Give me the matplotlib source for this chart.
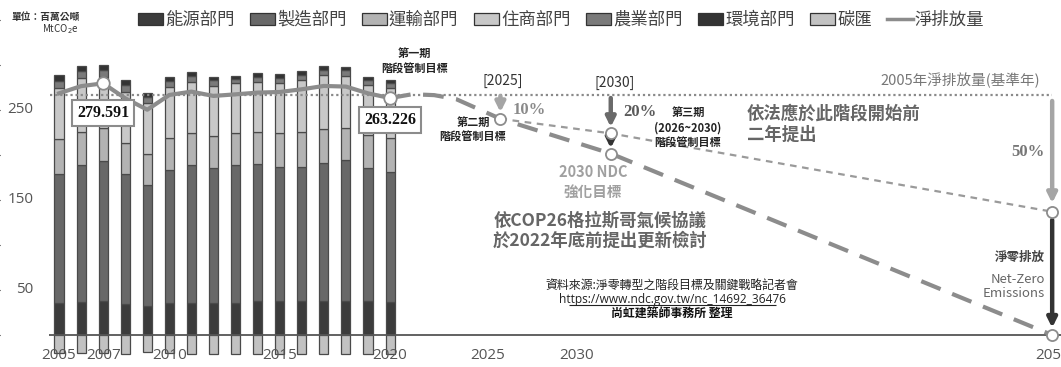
import numpy as np
import matplotlib
matplotlib.use("Agg")
import matplotlib.pyplot as plt
from matplotlib.patches import Patch
from matplotlib.lines import Line2D

plt.rcParams['font.family'] = ['Noto Sans CJK TC', 'DejaVu Sans']

# 2005-2020 排放量 (MtCO2e)
years = np.arange(2005, 2021)
energy = [35.6, 36.7, 38.1, 34.4, 32.2, 35.6, 35.6, 35.6, 35.6, 38.1, 38.1, 38.1, 38.1, 38.1, 38.1, 36.7]
manufacturing = [143.3, 151.8, 155.2, 144.5, 134.5, 147.7, 152.9, 150.4, 152.9, 151.9, 148.9, 148.9, 153.4, 156.3, 147.9, 144.8]
transport = [38.5, 37.4, 36.3, 34.8, 34.4, 35.2, 35.5, 35.5, 35.5, 35.9, 37.8, 38.9, 37.0, 35.2, 36.2, 37.0]
residential = [56.6, 59.3, 57.4, 56.7, 56.3, 56.7, 57.5, 55.2, 55.6, 55.6, 54.8, 57.4, 60.4, 58.2, 55.6, 55.5]
agriculture = [8.6, 7.9, 7.6, 7.5, 6.5, 6.9, 6.1, 6.1, 5.0, 5.5, 5.9, 6.1, 5.9, 6.1, 5.5, 5.5]
environment = [6.3, 5.8, 5.4, 5.4, 4.6, 4.9, 4.3, 4.2, 3.4, 3.7, 4.1, 4.3, 4.1, 4.2, 3.7, 3.8]
sink = [-20.4, -20.4, -20.4, -21.1, -18.5, -20.4, -21.1, -21.1, -21.1, -21.1, -21.1, -21.1, -21.1, -21.1, -21.1, -21.1]
net = [268.5, 276.5, 279.591, 263.0, 250.3, 266.7, 270.4, 265.6, 267.4, 269.3, 270.0, 273.0, 276.7, 276.0, 268.5, 263.226]

base_2005 = 266.9

# 減量路徑
ndc_years = [2020, 2021, 2022, 2023, 2025, 2030, 2050]
ndc_path = [263.226, 267.5, 266.5, 262.0, 240.2, 201.6, 0.0]
stage_years = [2025, 2030, 2050]
stage_path = [240.2, 224.0, 137.0]

tick_years = [2005, 2007, 2010, 2015, 2020, 2025, 2030, 2050]
label_shift = {2025: -0.6, 2030: -1.55}

sector_names = ['能源部門', '製造部門', '運輸部門', '住商部門', '農業部門', '環境部門']
sector_vals = [energy, manufacturing, transport, residential, agriculture, environment]
sector_cols = ['#3c3c3c', '#686868', '#b3b3b3', '#c8c8c8', '#7a7a7a', '#333333']
sink_col = '#c2c2c2'

fig = plt.figure(figsize=(10.61, 3.67), dpi=100)
ax = fig.add_axes([0, 0, 1, 1])
ax.set_xlim(2002.327, 2050.40)
ax.set_ylim(-35.56, 372.2)
for s in ax.spines.values():
    s.set_visible(False)

# 堆疊長條
bottom = np.zeros(len(years))
for vals, col in zip(sector_vals, sector_cols):
    ax.bar(years, vals, 0.41, bottom=bottom, color=col, edgecolor='#4a4a4a', lw=0.9, zorder=2)
    bottom += np.array(vals)
ax.bar(years, sink, 0.41, color=sink_col, edgecolor='#4a4a4a', lw=0.9, zorder=2)

ax.hlines(0, 2004.55, 2050.5, color='#555555', lw=1.3, zorder=3)
ax.hlines(base_2005, 2004.6, 2050.0, color='#8a8a8a', lw=1.6,
          linestyles=(0, (1, 1.3)), zorder=3)

# 淨排放量
ax.plot(years, net, color='#8c8c8c', lw=3, zorder=4)
for yr in [2007, 2020]:
    v = net[list(years).index(yr)]
    ax.plot(yr, v, 'o', ms=9, mfc='white', mec='#8c8c8c', mew=1.3, zorder=5)
    ax.text(yr, v - 33 if yr == 2007 else v - 24.5, f'{v:.3f}', ha='center', va='center',
            family='Liberation Serif', weight='bold', fontsize=11.5, color='#111111', zorder=6,
            bbox=dict(boxstyle='square,pad=0.3', fc='white', ec='#8c8c8c', lw=1.5))

ax.plot(ndc_years, ndc_path, color='#8c8c8c', lw=3, dashes=(5, 3), zorder=3)
ax.plot(stage_years, stage_path, color='#9a9a9a', lw=1.6, dashes=(3, 2.5), zorder=3)


def arrow(x, y0, y1, col, lw=3.2, ms=14):
    ax.annotate('', xy=(x, y1), xytext=(x, y0), zorder=4,
                arrowprops=dict(arrowstyle='-|>', color=col, lw=lw, mutation_scale=ms,
                                shrinkA=0, shrinkB=0))


arrow(2025, 265.6, 247.5, '#a5a5a5')
arrow(2030, 263.3, 231.0, '#6a6a6a')
arrow(2030, 219.0, 207.5, '#333333')
arrow(2050, 260.0, 146.5, '#a5a5a5')
arrow(2050, 127.8, 8.0, '#333333')

for x, v in [(2025, 240.2), (2030, 224.0), (2030, 201.6), (2050, 137.0), (2050, 0.0)]:
    ax.plot(x, v, 'o', ms=8, mfc='white', mec='#8c8c8c', mew=1.3, zorder=6)

# 標註
bold_small = dict(fontsize=8, weight='bold', color='#222222', ha='center', va='center',
                  linespacing=1.25)
ax.text(2021.1, 304, '第一期\n階段管制目標', **bold_small)
ax.text(2023.76, 228, '第二期\n階段管制目標', **bold_small)
ax.text(2033.5, 230, '第三期\n(2026~2030)\n階段管制目標', **bold_small)
ax.text(2025.1, 282, '[2025]', ha='center', va='center', fontsize=10, color='#333333')
ax.text(2030.2, 280, '[2030]', ha='center', va='center', fontsize=10, color='#333333')
ax.text(2025.55, 250, '10%', ha='left', va='center', family='Liberation Serif',
        weight='bold', fontsize=12, color='#8a8a8a')
ax.text(2030.55, 248, '20%', ha='left', va='center', family='Liberation Serif',
        weight='bold', fontsize=12, color='#5a5a5a')
ax.text(2049.67, 203.3, '50%', ha='right', va='center', family='Liberation Serif',
        weight='bold', fontsize=12, color='#777777')
ax.text(2029.2, 170, '2030 NDC\n強化目標', ha='center', va='center', fontsize=10.5,
        weight='bold', color='#a0a0a0', linespacing=1.3)
ax.text(2024.67, 115.6, '依COP26格拉斯哥氣候協議\n於2022年底前提出更新檢討', ha='left',
        va='center', fontsize=12.5, weight='bold', color='#666666', linespacing=1.15)
ax.text(2036.17, 234.4, '依法應於此階段開始前\n二年提出', ha='left', va='center',
        fontsize=12.5, weight='bold', color='#666666', linespacing=1.2)
ax.text(2049.45, 283.3, '2005年淨排放量(基準年)', ha='right', va='center', fontsize=10.5,
        color='#777777')
ax.text(2049.67, 86.7, '淨零排放', ha='right', va='center', fontsize=9, weight='bold',
        color='#444444')
ax.text(2049.67, 68.9, 'Net-Zero\nEmissions', ha='right', va='top', fontsize=9.5,
        color='#666666', linespacing=1.1)

ax.text(2032.78, 55.6, '資料來源:淨零轉型之階段目標及關鍵戰略記者會', ha='center',
        va='center', fontsize=8.6, color='#222222')
ax.text(2032.78, 38.9, 'https://www.ndc.gov.tw/nc_14692_36476', ha='center', va='center',
        fontsize=8.6, color='#222222', family='Open Sans')
ax.hlines(33.0, 2028.1, 2037.5, color='#222222', lw=0.8)
ax.text(2032.78, 23.3, '尚虹建築師事務所 整理', ha='center', va='center', fontsize=8.6,
        weight='bold', color='#111111')

# 座標軸刻度
for v in [50, 150, 250]:
    ax.text(2003.83, v, str(v), ha='right', va='center', fontsize=11, color='#555555',
            family='Open Sans')
for yr in tick_years:
    ax.text(yr + label_shift.get(yr, 0), -22.5, str(yr), ha='center', va='center',
            fontsize=11, color='#555555', family='Open Sans', zorder=6)

fig.text(12 / 1061, 1 - 17 / 367, '單位：百萬公噸', fontsize=7, weight='bold',
         color='#333333', va='center')
fig.text(42 / 1061, 1 - 29 / 367, r'MtCO$_2$e', fontsize=7, color='#333333', va='center')

handles = [Patch(facecolor=c, edgecolor='#333333', lw=0.9) for c in sector_cols]
handles.append(Patch(facecolor=sink_col, edgecolor='#333333', lw=0.9))
handles.append(Line2D([], [], color='#8c8c8c', lw=2.5))
labels = sector_names + ['碳匯', '淨排放量']
fig.legend(handles, labels, ncol=8, loc='center left', bbox_to_anchor=(138 / 1061, 1 - 20 / 367),
           frameon=False, fontsize=12.5, handlelength=1.45, handleheight=0.7,
           handletextpad=0.1, columnspacing=0.9, borderpad=0, borderaxespad=0,
           labelcolor='#444444')

fig.savefig('out.png', dpi=100)
